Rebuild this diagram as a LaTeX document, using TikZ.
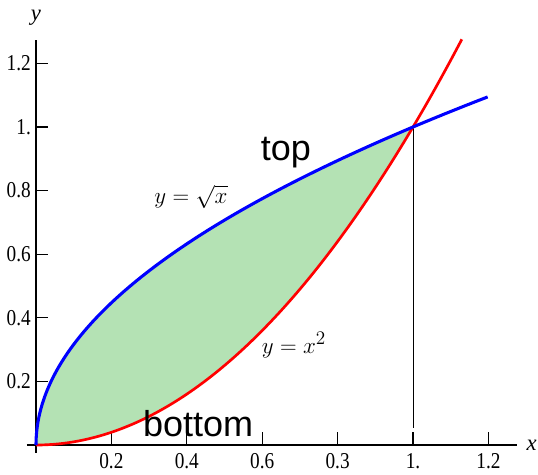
\documentclass[tikz,border=0pt]{standalone}
\usepackage{fontspec}
\setmainfont{Liberation Serif}
\newfontfamily\labelfont{Liberation Sans}
\newfontfamily\tickfont[FakeStretch=0.85]{Liberation Serif}
\definecolor{areagreen}{RGB}{180,226,180}
\definecolor{curveblue}{RGB}{0,0,255}
\definecolor{curvered}{RGB}{255,0,0}
\tikzset{
  axisline/.style={line width=1pt,black},
  tickline/.style={line width=0.9pt,black},
  ticklab/.style={font=\tickfont\fontsize{17}{17}\selectfont,inner sep=0pt},
  bigword/.style={font=\labelfont\fontsize{27}{27}\selectfont,inner sep=0pt,anchor=base},
  eqlab/.style={font=\fontsize{19}{19}\selectfont,inner sep=0pt},
  bluecurve/.style={line width=2.3pt,curveblue},
  redcurve/.style={line width=2pt,curvered},
}
\begin{document}
\begin{tikzpicture}[x=0.75pt,y=-0.75pt]
\useasboundingbox (0,0) rectangle (538,474);
\begin{scope}[shift={(36,445)}]
\begin{scope}[x=282.75pt,y=238.5pt]
  % shaded region
  \fill[areagreen] plot[domain=0:1,samples=80,smooth] ({\x*\x},{\x})
      -- plot[domain=1:0,samples=60,smooth] ({\x},{\x*\x}) -- cycle;
  % axes
  \coordinate (xs) at (-0.024,0);
  \coordinate (xe) at (1.276,0);
  \coordinate (ys) at (0,-0.025);
  \coordinate (ye) at (0,1.274);
  \draw[axisline] (xs) -- (xe);
  \draw[axisline] (ys) -- (ye);
  \node[font=\itshape\fontsize{17}{17}\selectfont] (xlab) at (1.315,0.0) {x};
  \node[font=\itshape\fontsize{17}{17}\selectfont] (ylab) at (0,1.343) {y};
  % x ticks
  \foreach \v/\t in {0.2/0.2,0.4/0.4,0.6/0.6,0.8/0.3,1/1.,1.2/1.2}{
    \draw[tickline] (\v,0) -- (\v,0.041);
    \node[ticklab,anchor=north] (xt\v) at (\v,-0.026) {\t};
  }
  % y ticks
  \foreach \v/\t in {0.2/0.2,0.4/0.4,0.6/0.6,0.8/0.8,1/1.,1.2/1.2}{
    \draw[tickline] (0,\v) -- (0.032,\v);
    \node[ticklab,anchor=east] (yt\v) at (-0.013,\v) {\t};
  }
  % vertical line at x=1
  \coordinate (meet) at (1,1);
  \coordinate (foot) at (1,0.053);
  \draw[line width=0.75pt] (meet) -- (foot);
  % curves
  \draw[redcurve] plot[domain=0:1.13,samples=80,smooth] ({\x},{\x*\x});
  \draw[bluecurve] plot[domain=0:1.0954,samples=80,smooth] ({\x*\x},{\x});
  % labels
  \node[bigword] (top) at (0.663,0.896) {top};
  \node[bigword] (bottom) at (0.430,0.028) {bottom};
  \node[eqlab] (sq) at (0.411,0.780) {$y=\sqrt{x}$};
  \node[eqlab] (sqr) at (0.684,0.314) {$y=x^{2}$};
\end{scope}
\end{scope}
\end{tikzpicture}
\end{document}
